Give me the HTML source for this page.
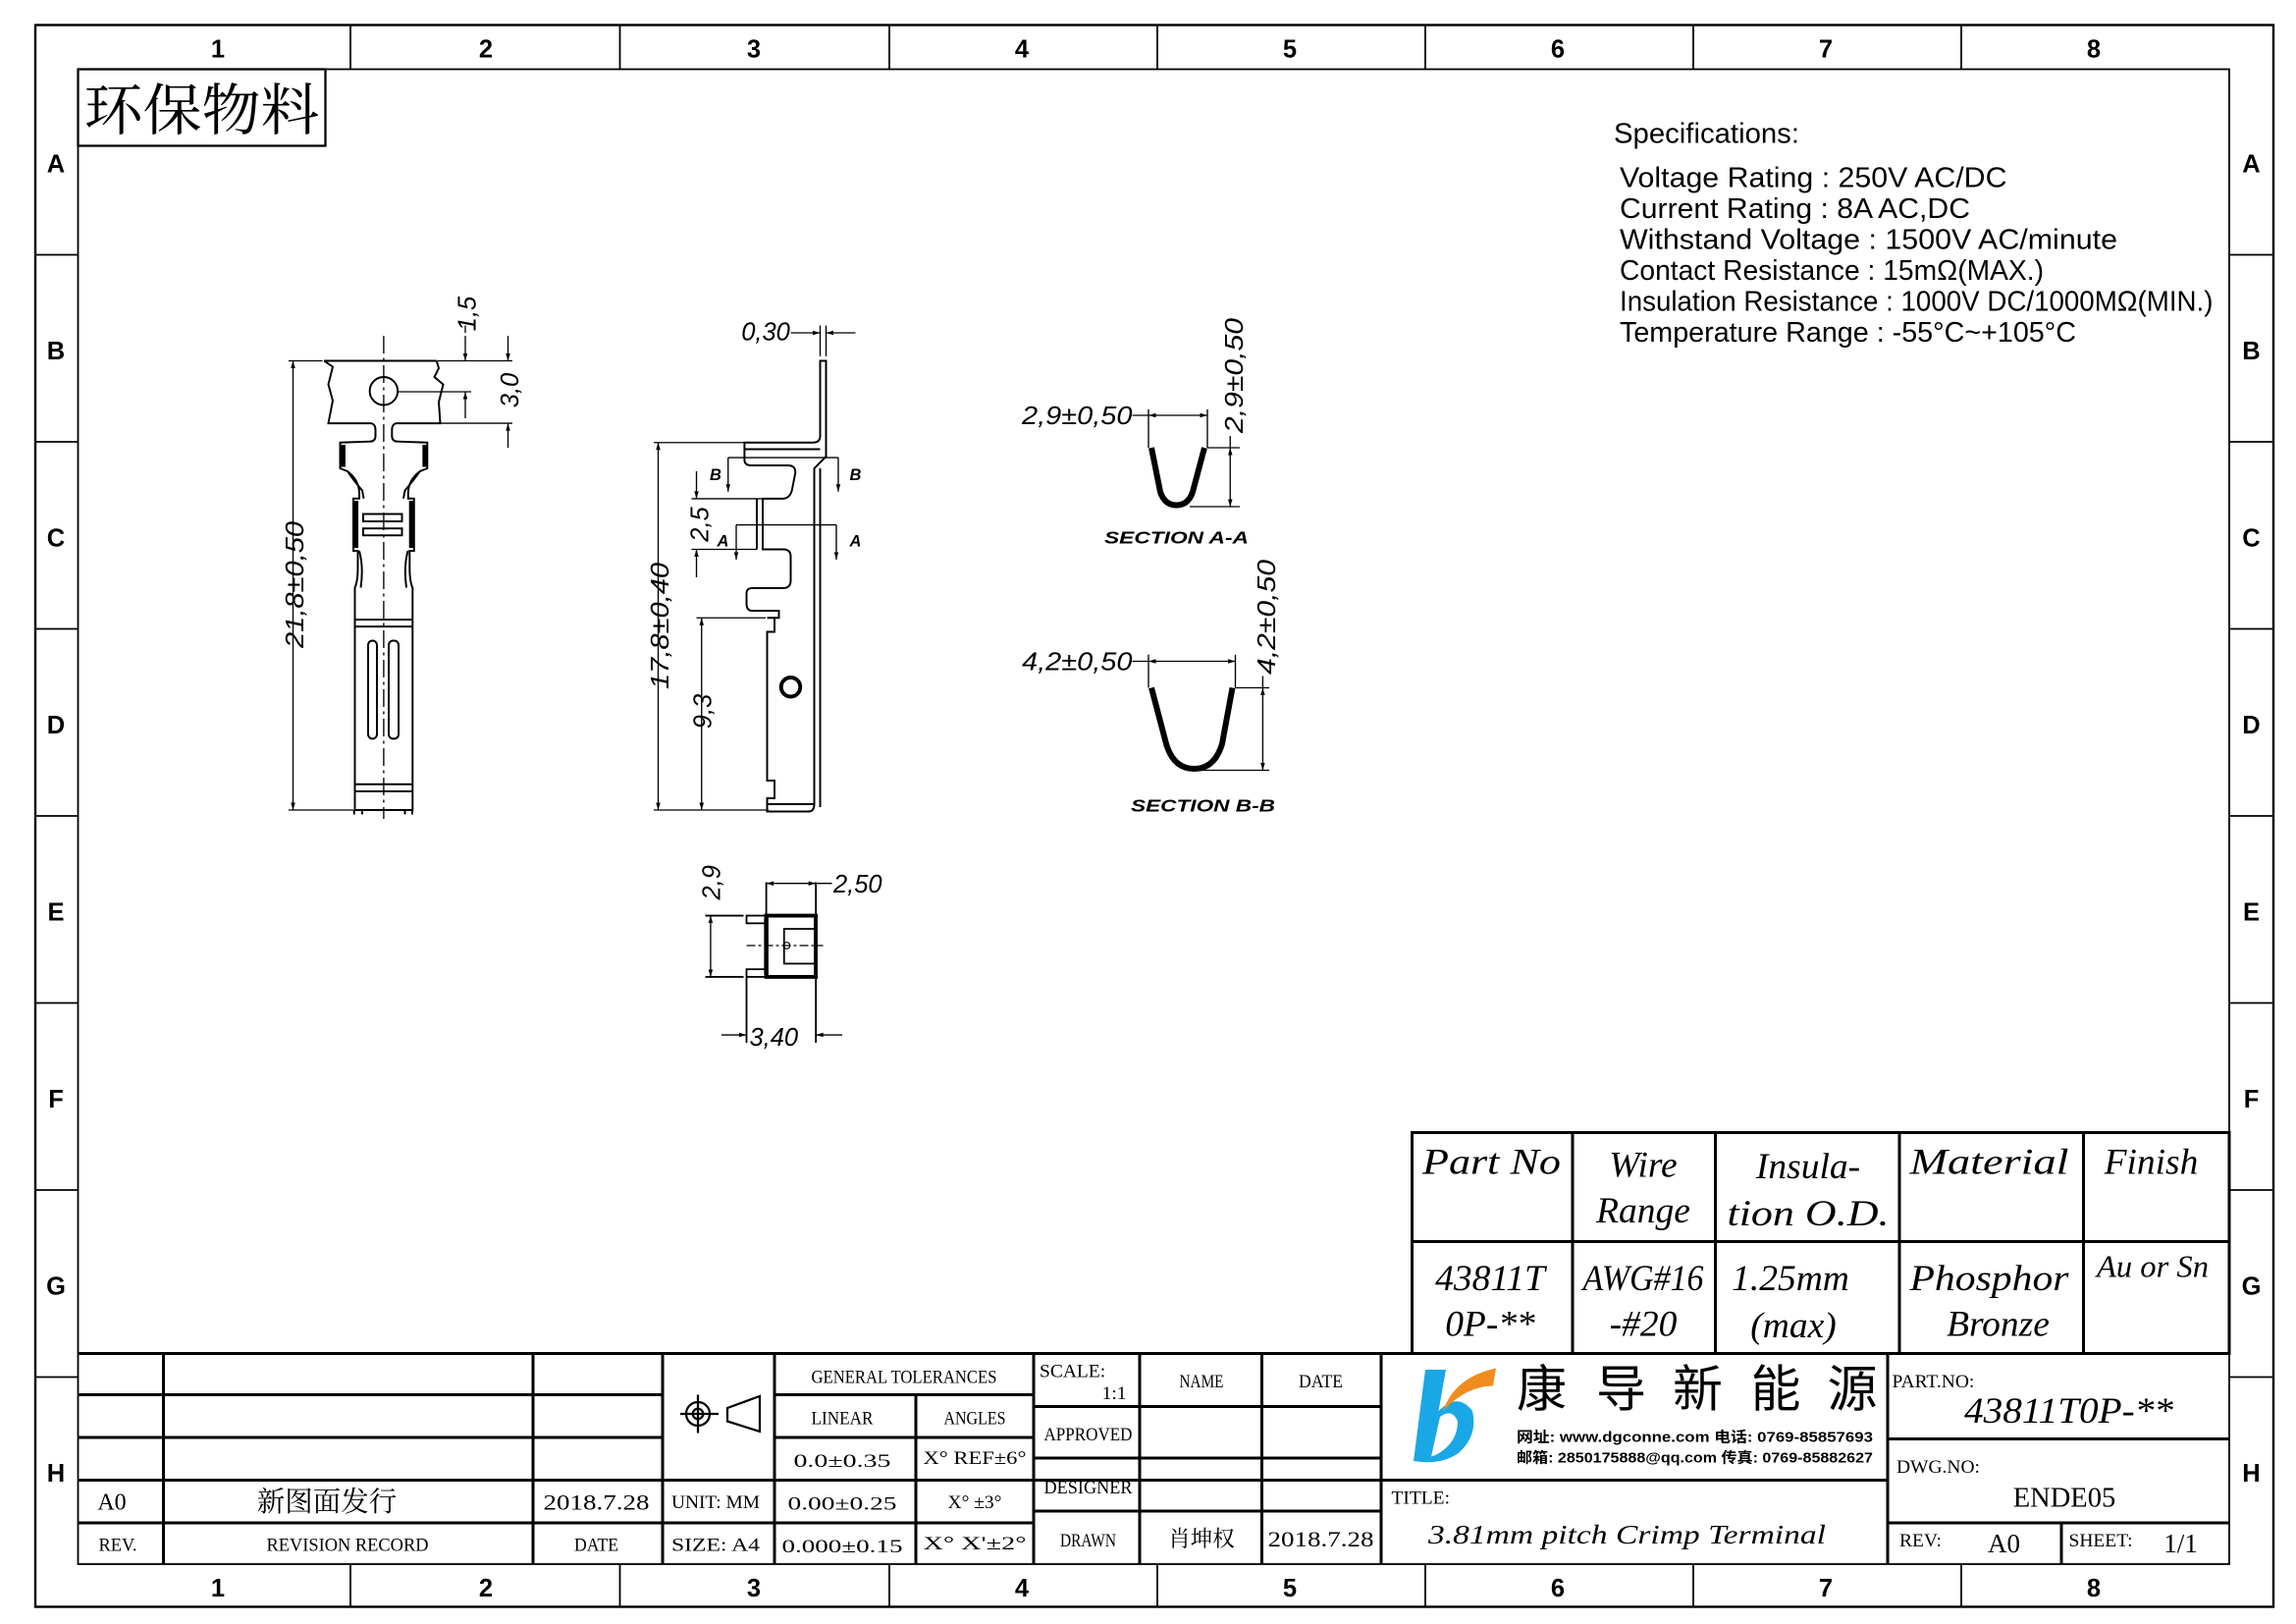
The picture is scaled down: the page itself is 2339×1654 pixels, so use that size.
<!DOCTYPE html>
<html><head><meta charset="utf-8"><style>
html,body{margin:0;padding:0;background:#fff;}
svg{display:block;}
text{font-family:"Liberation Sans","Noto Sans CJK SC",sans-serif;}
.s text, text.s{font-family:"Liberation Serif","Noto Serif CJK SC","Noto Sans CJK SC",serif;}
.it{font-style:italic;}
</style></head><body>
<svg xmlns="http://www.w3.org/2000/svg" width="2339" height="1654" viewBox="0 0 1559.33 1102.67">
<defs>
<marker id="a" viewBox="0 0 10 10" refX="10" refY="5" markerWidth="7" markerHeight="5" orient="auto-start-reverse" markerUnits="userSpaceOnUse"><path d="M0,2 L10,5 L0,8 z" fill="#000"/></marker>
</defs>
<rect width="1559.33" height="1102.67" fill="#fff"/>
<g fill="none" stroke="#000">
<rect x="24" y="17" width="1520" height="1074" stroke-width="1.6"/>
<rect x="53" y="47" width="1461" height="1015" stroke-width="1.2"/>
<g stroke-width="1.2">
<path d="M238,17V47M421,17V47M604,17V47M786,17V47M968,17V47M1150,17V47M1332,17V47"/>
<path d="M238,1062V1091M421,1062V1091M604,1062V1091M786,1062V1091M968,1062V1091M1150,1062V1091M1332,1062V1091"/>
<path d="M24,173H53M24,300H53M24,427H53M24,554H53M24,681H53M24,808H53M24,935H53"/>
<path d="M1514,173H1544M1514,300H1544M1514,427H1544M1514,554H1544M1514,681H1544M1514,808H1544M1514,935H1544"/>
</g>
<rect x="53" y="47" width="168" height="52" stroke-width="1.5"/>
</g>
<g font-size="17" text-anchor="middle" font-weight="bold">
<text x="148" y="39">1</text><text x="330" y="39">2</text><text x="512" y="39">3</text><text x="694" y="39">4</text><text x="876" y="39">5</text><text x="1058" y="39">6</text><text x="1240" y="39">7</text><text x="1422" y="39">8</text>
<text x="148" y="1084">1</text><text x="330" y="1084">2</text><text x="512" y="1084">3</text><text x="694" y="1084">4</text><text x="876" y="1084">5</text><text x="1058" y="1084">6</text><text x="1240" y="1084">7</text><text x="1422" y="1084">8</text>
<text x="38" y="117">A</text><text x="38" y="244">B</text><text x="38" y="371">C</text><text x="38" y="498">D</text><text x="38" y="625">E</text><text x="38" y="752">F</text><text x="38" y="879">G</text><text x="38" y="1006">H</text>
<text x="1529" y="117">A</text><text x="1529" y="244">B</text><text x="1529" y="371">C</text><text x="1529" y="498">D</text><text x="1529" y="625">E</text><text x="1529" y="752">F</text><text x="1529" y="879">G</text><text x="1529" y="1006">H</text>
</g>
<text class="s" x="57" y="88" font-size="38" textLength="160" lengthAdjust="spacingAndGlyphs">环保物料</text>

<g font-size="19">
<text x="1096" y="97" textLength="126" lengthAdjust="spacingAndGlyphs">Specifications:</text>
<text x="1100" y="127" textLength="263" lengthAdjust="spacingAndGlyphs">Voltage Rating : 250V AC/DC</text>
<text x="1100" y="148" textLength="238" lengthAdjust="spacingAndGlyphs">Current Rating : 8A AC,DC</text>
<text x="1100" y="169" textLength="338" lengthAdjust="spacingAndGlyphs">Withstand Voltage : 1500V AC/minute</text>
<text x="1100" y="190" textLength="288" lengthAdjust="spacingAndGlyphs">Contact Resistance : 15mΩ(MAX.)</text>
<text x="1100" y="211" textLength="403" lengthAdjust="spacingAndGlyphs">Insulation Resistance : 1000V DC/1000MΩ(MIN.)</text>
<text x="1100" y="232" textLength="310" lengthAdjust="spacingAndGlyphs">Temperature Range : -55°C~+105°C</text>
</g>

<g fill="none" stroke="#000" stroke-width="1.3">
<path d="M220,245 L226,249 L223,261 L226,272 L223,287.4 L252,287.4 Q255,288 255,292 L255,296 Q255,299.8 251,299.8 L231,300.5 L231,318 L236,320 Q244,326 244,335 L244,338.5 L240,338.5 L240,374 L243,374 L243,385 Q243,395 241,399 L241,550 L280.2,550 L280.2,399 Q278.2,395 278.2,385 L278.2,374 L281.2,374 L281.2,338.5 L277.2,338.5 L277.2,335 Q277.2,326 285.2,320 L290.2,318 L290.2,300.5 L270.2,299.8 Q266.2,299.8 266.2,296 L266.2,292 Q266.2,288 269.2,287.4 L299,287.4 L298,273 L301,261 L295,256 L298,250 L296.5,245"/>
<path d="M220,245 H296.5"/>
<circle cx="260.6" cy="265.5" r="9.5"/>
<path d="M236,320 Q240,326 246,333 L247,338.5 M285.2,320 Q281,326 275,333 L274,338.5"/>
<path d="M244,374 Q247,385 245,399 M277,374 Q274,385 276,399"/>
<path d="M241,420.7H280.2M241,425.4H280.2M241,532.5H280.2M241,537.3H280.2"/>
<rect x="250" y="435" width="6" height="66.6" rx="3"/>
<rect x="264" y="435" width="6.7" height="66.6" rx="3"/>
<rect x="246.6" y="349" width="26.4" height="5"/>
<rect x="246.6" y="358.8" width="26.4" height="4.7"/>
<path d="M240.5,550 V553 M246,550 V553 M275,550 V553 M280,550 V553"/>
</g>
<g stroke="#000" stroke-width="3.2" fill="none">
<path d="M233,302V317 M288.5,302V317 M241.8,340V372 M279.4,340V372"/>
</g>
<path d="M260.6,228 V556" stroke="#000" stroke-width="0.9" stroke-dasharray="12 3 2 3" fill="none"/>
<g stroke="#000" stroke-width="0.9" fill="none">
<path d="M196,245 H219 M196,550 H240"/>
<path d="M199,245 V550" marker-start="url(#a)" marker-end="url(#a)"/>
<path d="M297,245 H348 M270,266 H320 M297,287.4 H348"/>
<path d="M316,228 V245" marker-end="url(#a)"/>
<path d="M316,284 V266" marker-end="url(#a)"/>
<path d="M316,226 V221"/>
<path d="M345,228 V245" marker-end="url(#a)"/>
<path d="M345,304 V287.4" marker-end="url(#a)"/>
</g>
<g class="it" font-size="17" text-anchor="middle">
<text transform="translate(206,397) rotate(-90)" textLength="86" lengthAdjust="spacingAndGlyphs">21,8±0,50</text>
<text transform="translate(323,213) rotate(-90)">1,5</text>
<text transform="translate(352,265) rotate(-90)">3,0</text>
</g>

<g fill="none" stroke="#000" stroke-width="1.3">
<path d="M505.6,300.5 L552,300.5 Q557,300.5 557,296 L557,245 L561,245 L561,310 L553,318 L553,546 Q553,551 549,551 L521,551 L521,542 L526,542 L526,530 L521,530 L521,429 L526,429 L526,419.5 L521,419.5 L529,419.5 L529,414.7 L511,414.7 Q507,414.7 507,410 L507,403 Q507,399.3 511,399.3 L532,399.3 Q537,399.3 537,394 L537,378 Q537,373 532,373 L518,373 L518,338.6 L532,338.6 Q537,338 538,332 L540,322 Q541,316 535,316 L510,316 Q505.6,316 505.6,312 Z"/>
<path d="M514,338.6 V373 M557,318 V548 M521,546 H553"/>
<path d="M505.6,305 H557"/>
</g>
<circle cx="537" cy="466.5" r="6.5" fill="none" stroke="#000" stroke-width="2.6"/>
<g stroke="#000" stroke-width="0.9" fill="none">
<path d="M557,221 V242 M561,221 V242"/>
<path d="M537,226 H557" marker-end="url(#a)"/>
<path d="M581,226 H561" marker-end="url(#a)"/>
<path d="M444,300.5 H506 M444,550 H522"/>
<path d="M447,300.5 V550" marker-start="url(#a)" marker-end="url(#a)"/>
<path d="M473,419.5 H520"/>
<path d="M476.5,419.5 V550" marker-start="url(#a)" marker-end="url(#a)"/>
<path d="M469.6,338.6 H518 M469.6,373 H514"/>
<path d="M473,320 V338.6" marker-end="url(#a)"/>
<path d="M473,392 V373" marker-end="url(#a)"/>
<path d="M494.5,310.7 H569.3"/>
<path d="M494.5,310.7 V333.8" marker-end="url(#a)"/>
<path d="M569.3,310.7 V333.8" marker-end="url(#a)"/>
<path d="M500,356.4 H568"/>
<path d="M500,356.4 V380" marker-end="url(#a)"/>
<path d="M568,356.4 V380" marker-end="url(#a)"/>
</g>
<g class="it" font-size="17" text-anchor="middle">
<text x="520" y="231">0,30</text>
<text transform="translate(454,425) rotate(-90)" textLength="86" lengthAdjust="spacingAndGlyphs">17,8±0,40</text>
<text transform="translate(483,483) rotate(-90)">9,3</text>
<text transform="translate(481,356) rotate(-90)">2,5</text>
</g>
<g class="it" font-size="11" font-weight="bold" text-anchor="middle">
<text x="486" y="326">B</text><text x="581" y="326">B</text>
<text x="491" y="371">A</text><text x="581" y="371">A</text>
</g>

<g fill="none" stroke="#000" stroke-width="0.9">
<path d="M780,278 V304 M820,278 V304"/>
<path d="M780,282 H820" marker-start="url(#a)" marker-end="url(#a)"/>
<path d="M769,282 H780"/>
<path d="M820,304 H842 M808,344 H842"/>
<path d="M835.5,304 V344" marker-start="url(#a)" marker-end="url(#a)"/>
<path d="M835.5,296 V304"/>
<path d="M780,444.5 V467 M839,444.5 V467"/>
<path d="M780,449 H839" marker-start="url(#a)" marker-end="url(#a)"/>
<path d="M769,449 H780"/>
<path d="M839,467 H862 M811,523 H862"/>
<path d="M857.6,467 V523" marker-start="url(#a)" marker-end="url(#a)"/>
<path d="M857.6,459 V467"/>
</g>
<g fill="none" stroke="#000" stroke-width="4" stroke-linecap="butt">
<path d="M782,304 L788,334 Q791,343 799,343 Q807,343 810,334 L818,304"/>
<path d="M782,467 L792,505 Q797,522 811,522 Q825,522 830,505 L837,467"/>
</g>
<g class="it" font-size="17">
<text x="769" y="288" text-anchor="end" textLength="75" lengthAdjust="spacingAndGlyphs">2,9±0,50</text>
<text x="769" y="455" text-anchor="end" textLength="75" lengthAdjust="spacingAndGlyphs">4,2±0,50</text>
<text transform="translate(844,294) rotate(-90)" textLength="78" lengthAdjust="spacingAndGlyphs">2,9±0,50</text>
<text transform="translate(866,458) rotate(-90)" textLength="78" lengthAdjust="spacingAndGlyphs">4,2±0,50</text>
</g>
<g class="it" font-size="12" font-weight="bold" text-anchor="middle">
<text x="799" y="369" textLength="98" lengthAdjust="spacingAndGlyphs">SECTION A-A</text>
<text x="817" y="551" textLength="98" lengthAdjust="spacingAndGlyphs">SECTION B-B</text>
</g>

<g fill="none" stroke="#000" stroke-width="1.2">
<rect x="507" y="621.7" width="13.4" height="5.2"/>
<rect x="507" y="658.1" width="13.4" height="5.2"/>
<rect x="532.5" y="630.7" width="21" height="23.6"/>
<path d="M507,642 H559" stroke-width="0.8" stroke-dasharray="6 2 2 2"/>
<circle cx="534.3" cy="642" r="2.2" stroke-width="0.8"/>
<path d="M520.4,599 V621.7 M554.1,599 V663.3 M507,663.3 V708"/>
<path d="M554.1,663.3 V708"/>
<path d="M479,621.7 H505 M479,663.3 H505"/>
<path d="M482.6,621.7 V663.3" stroke-width="0.9" marker-start="url(#a)" marker-end="url(#a)"/>
<path d="M520.4,599.8 H554.1" stroke-width="0.9" marker-start="url(#a)" marker-end="url(#a)"/>
<path d="M554.1,599.8 H565" stroke-width="0.9"/>
<path d="M490,702.7 H507" stroke-width="0.9" marker-end="url(#a)"/>
<path d="M572,702.7 H554.1" stroke-width="0.9" marker-end="url(#a)"/>
</g>
<path d="M520.4,621.7 H554 V663.3 H520.4 Z" fill="none" stroke="#000" stroke-width="2.6"/>
<path d="M520.4,623 V662" stroke="#000" stroke-width="3" fill="none"/>
<g class="it" font-size="17">
<text x="566" y="606">2,50</text>
<text x="509" y="710">3,40</text>
<text transform="translate(489,611) rotate(-90)">2,9</text>
</g>

<g fill="none" stroke="#000" stroke-width="2">
<rect x="959" y="769" width="555" height="150"/>
<path d="M959,843 H1514 M1068,769 V919 M1165,769 V919 M1290,769 V919 M1415,769 V919"/>
</g>
<g class="s it" font-size="25" text-anchor="middle">
<text x="1013" y="797" textLength="94" lengthAdjust="spacingAndGlyphs">Part No</text>
<text x="1116" y="799">Wire</text>
<text x="1116" y="830">Range</text>
<text x="1228" y="800">Insula-</text>
<text x="1228" y="832" textLength="110" lengthAdjust="spacingAndGlyphs">tion O.D.</text>
<text x="1351" y="797" textLength="108" lengthAdjust="spacingAndGlyphs">Material</text>
<text x="1461" y="797">Finish</text>
<text x="1012" y="876">43811T</text>
<text x="1012" y="907">0P-**</text>
<text x="1116" y="876" textLength="82" lengthAdjust="spacingAndGlyphs">AWG#16</text>
<text x="1116" y="907">-#20</text>
<text x="1216" y="876">1.25mm</text>
<text x="1218" y="908">(max)</text>
<text x="1351" y="876" textLength="108" lengthAdjust="spacingAndGlyphs">Phosphor</text>
<text x="1357" y="907">Bronze</text>
<text x="1462" y="867" font-size="21" textLength="76" lengthAdjust="spacingAndGlyphs">Au or Sn</text>
</g>

<g fill="none" stroke="#000" stroke-width="2">
<path d="M53,919 H1514"/>
<path d="M53,947 H450 M53,976 H450 M53,1005 H1282 M53,1034 H702"/>
<path d="M526,947 H702 M526,976 H702"/>
<path d="M702,955 H938 M702,990 H938 M702,1026 H938"/>
<path d="M111,919 V1062 M362,919 V1062 M450,919 V1062 M526,919 V1062 M622,947 V1062 M702,919 V1062 M774,919 V1062 M857,919 V1062 M938,919 V1062"/>
<path d="M1282,919 V1062 M1282,977 H1514 M1282,1034 H1514 M1400,1034 V1062"/>
</g>
<g class="s" font-size="13" text-anchor="middle">
<text x="76" y="1025" font-size="16">A0</text>
<text x="222" y="1026" font-size="19">新图面发行</text>
<text x="405" y="1025" font-size="15" textLength="72" lengthAdjust="spacingAndGlyphs">2018.7.28</text>
<text x="80" y="1053" textLength="26" lengthAdjust="spacingAndGlyphs">REV.</text>
<text x="236" y="1053" textLength="110" lengthAdjust="spacingAndGlyphs">REVISION RECORD</text>
<text x="405" y="1053" textLength="30" lengthAdjust="spacingAndGlyphs">DATE</text>
<text x="486" y="1024" textLength="60" lengthAdjust="spacingAndGlyphs">UNIT: MM</text>
<text x="486" y="1053" textLength="60" lengthAdjust="spacingAndGlyphs">SIZE: A4</text>
<text x="614" y="939" textLength="126" lengthAdjust="spacingAndGlyphs">GENERAL TOLERANCES</text>
<text x="572" y="967" textLength="42" lengthAdjust="spacingAndGlyphs">LINEAR</text>
<text x="662" y="967" textLength="42" lengthAdjust="spacingAndGlyphs">ANGLES</text>
<text x="572" y="996" textLength="66" lengthAdjust="spacingAndGlyphs">0.0±0.35</text>
<text x="662" y="994" textLength="70" lengthAdjust="spacingAndGlyphs">X° REF±6°</text>
<text x="572" y="1025" textLength="74" lengthAdjust="spacingAndGlyphs">0.00±0.25</text>
<text x="662" y="1024">X° ±3°</text>
<text x="572" y="1054" textLength="82" lengthAdjust="spacingAndGlyphs">0.000±0.15</text>
<text x="662" y="1052" textLength="70" lengthAdjust="spacingAndGlyphs">X° X'±2°</text>
<text x="706" y="935" text-anchor="start">SCALE:</text>
<text x="765" y="950" text-anchor="end">1:1</text>
<text x="816" y="942" textLength="30" lengthAdjust="spacingAndGlyphs">NAME</text>
<text x="897" y="942" textLength="30" lengthAdjust="spacingAndGlyphs">DATE</text>
<text x="739" y="978" textLength="60" lengthAdjust="spacingAndGlyphs">APPROVED</text>
<text x="739" y="1014" textLength="60" lengthAdjust="spacingAndGlyphs">DESIGNER</text>
<text x="739" y="1050" textLength="38" lengthAdjust="spacingAndGlyphs">DRAWN</text>
<text x="816" y="1050" font-size="15">肖坤权</text>
<text x="897" y="1050" font-size="15" textLength="72" lengthAdjust="spacingAndGlyphs">2018.7.28</text>
<text x="945" y="1021" text-anchor="start">TITLE:</text>
<text x="1285" y="942" text-anchor="start">PART.NO:</text>
<text x="1288" y="1000" text-anchor="start">DWG.NO:</text>
<text x="1402" y="1023" font-size="19">ENDE05</text>
<text x="1290" y="1050" text-anchor="start">REV:</text>
<text x="1361" y="1054" font-size="18">A0</text>
<text x="1405" y="1050" text-anchor="start">SHEET:</text>
<text x="1481" y="1054" font-size="18">1/1</text>
</g>
<g class="s it" text-anchor="middle">
<text x="1405" y="966" font-size="25" textLength="142" lengthAdjust="spacingAndGlyphs">43811T0P-**</text>
<text x="1105" y="1048" font-size="18" textLength="270" lengthAdjust="spacingAndGlyphs">3.81mm pitch Crimp Terminal</text>
</g>
<g fill="none" stroke="#000" stroke-width="1.5">
<circle cx="474" cy="960" r="8"/>
<circle cx="474" cy="960" r="3.5"/>
<path d="M462,960 H488 M474,947 V973"/>
<path d="M494,956 L516,948 V972 L494,965 Z"/>
</g>
<path d="M968,930 L982,930 L977,958 Q990,945 1000,958 Q1004,975 990,987 Q978,995 960,992 Z" fill="#1aa7e6"/>
<path d="M972,989 L978,962 Q986,956 990,965 Q990,980 975,988 Z" fill="#fff"/>
<path d="M980,958 Q988,935 1016,929 L1014,941 Q996,941 980,958 Z" fill="#f08c1e"/>
<g font-family="'Noto Sans CJK SC',sans-serif" font-size="34" text-anchor="middle">
<text x="1047" y="955">康</text><text x="1101" y="955">导</text><text x="1153" y="955">新</text><text x="1206" y="955">能</text><text x="1258" y="955">源</text>
</g>
<g font-size="10" font-weight="bold">
<text x="1030" y="979" textLength="242" lengthAdjust="spacingAndGlyphs">网址: www.dgconne.com   电话: 0769-85857693</text>
<text x="1030" y="993" textLength="242" lengthAdjust="spacingAndGlyphs">邮箱: 2850175888@qq.com 传真: 0769-85882627</text>
</g>
</svg>
</body></html>
